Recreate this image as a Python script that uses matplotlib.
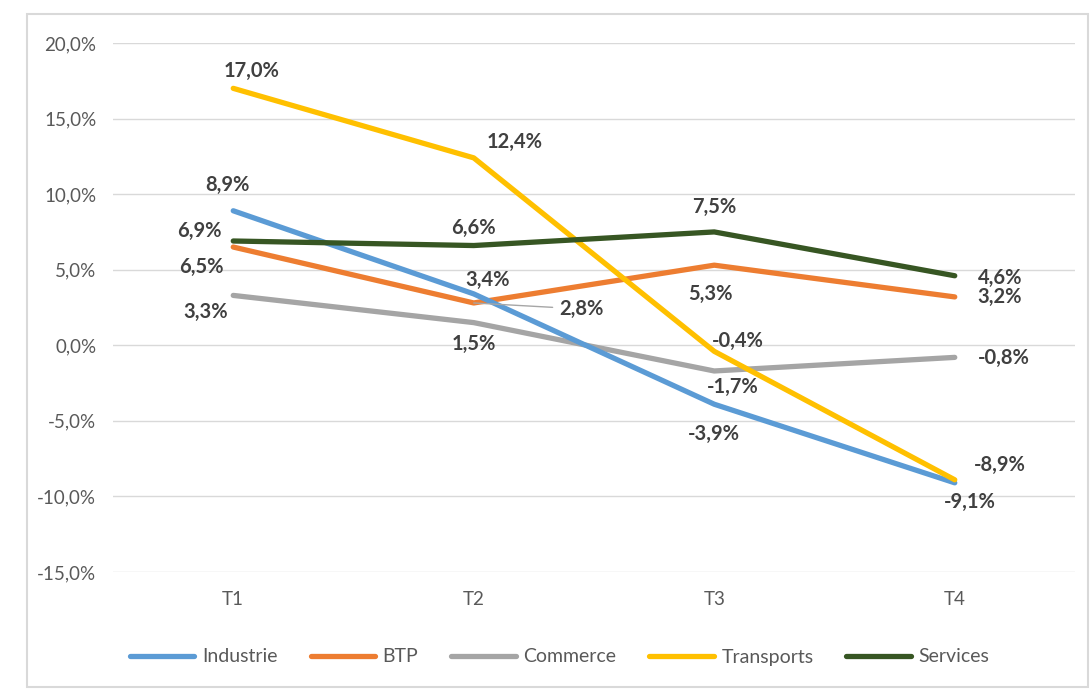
import matplotlib.pyplot as plt
from matplotlib.patches import Rectangle
from matplotlib.ticker import FuncFormatter

plt.rcParams['font.family'] = ['Lato', 'DejaVu Sans']

quarters = ['T1', 'T2', 'T3', 'T4']
industrie = [8.9, 3.4, -3.9, -9.1]
btp = [6.5, 2.8, 5.3, 3.2]
commerce = [3.3, 1.5, -1.7, -0.8]
transports = [17.0, 12.4, -0.4, -8.9]
services = [6.9, 6.6, 7.5, 4.6]

names = ['Industrie', 'BTP', 'Commerce', 'Transports', 'Services']
colors = ['#5B9BD5', '#ED7D31', '#A5A5A5', '#FFC000', '#375623']
series = [industrie, btp, commerce, transports, services]

# label offsets in pixels (dx, dy) from each point
offsets = [
    [(-6, 26), (14, 14), (0, -30), (15, -19)],
    [(-32, -20), (108, -6), (-4, -29), (45, 0)],
    [(-28, -17), (0, -21), (18, -16), (49, -1)],
    [(18, 17), (41, 16), (24, 10), (45, 15)],
    [(-34, 10), (0, 18), (0, 25), (45, -2)],
]

W, H = 1091, 689
fig = plt.figure(figsize=(W / 100, H / 100), dpi=100)
fig.add_artist(Rectangle((27 / W, 2 / H), 1061 / W, (675 - 2) / H, transform=fig.transFigure,
                         fill=False, edgecolor='#d9d9d9', linewidth=1.5))
ax = fig.add_axes([113 / W, (H - 572) / H, (1075 - 113) / W, (572 - 43) / H])

x = range(len(quarters))
for i in [2, 1, 0, 3, 4]:
    ax.plot(x, series[i], color=colors[i], lw=3.8, solid_capstyle='round',
            solid_joinstyle='round', label=names[i], zorder=3)

for i, vals in enumerate(series):
    for j, v in enumerate(vals):
        dx, dy = offsets[i][j]
        txt = f'{v:.1f}%'.replace('.', ',')
        kw = dict(xytext=(dx, dy), textcoords='offset pixels', ha='center', va='center',
                  fontsize=14.5, fontweight='bold', color='#404040', zorder=5)
        if i == 1 and j == 1:
            kw['arrowprops'] = dict(arrowstyle='-', color='#a6a6a6', lw=1,
                                    shrinkA=3, shrinkB=0)
        ax.annotate(txt, (j, v), **kw)

ax.set_xlim(-0.5, 3.5)
ax.set_ylim(-15, 20)
ax.set_yticks(range(-15, 21, 5))
ax.yaxis.set_major_formatter(FuncFormatter(lambda v, p: f'{v:.1f}%'.replace('.', ',')))
ax.set_xticks(list(x))
ax.set_xticklabels(quarters)
ax.grid(axis='y', color='#d9d9d9', lw=1, zorder=0)
for s in ax.spines.values():
    s.set_visible(False)
ax.tick_params(length=0, labelsize=13.5, labelcolor='#595959', pad=12)
ax.tick_params(axis='x', pad=14)

handles, labels = ax.get_legend_handles_labels()
hmap = dict(zip(labels, handles))
leg = fig.legend([hmap[n] for n in names], names, loc='center', bbox_to_anchor=(0.513, (H - 657) / H),
                 ncol=5, frameon=False, fontsize=14, handlelength=3.3, columnspacing=1.7,
                 handletextpad=0.4)
for t in leg.get_texts():
    t.set_color('#595959')

fig.savefig('out.png', dpi=100)
